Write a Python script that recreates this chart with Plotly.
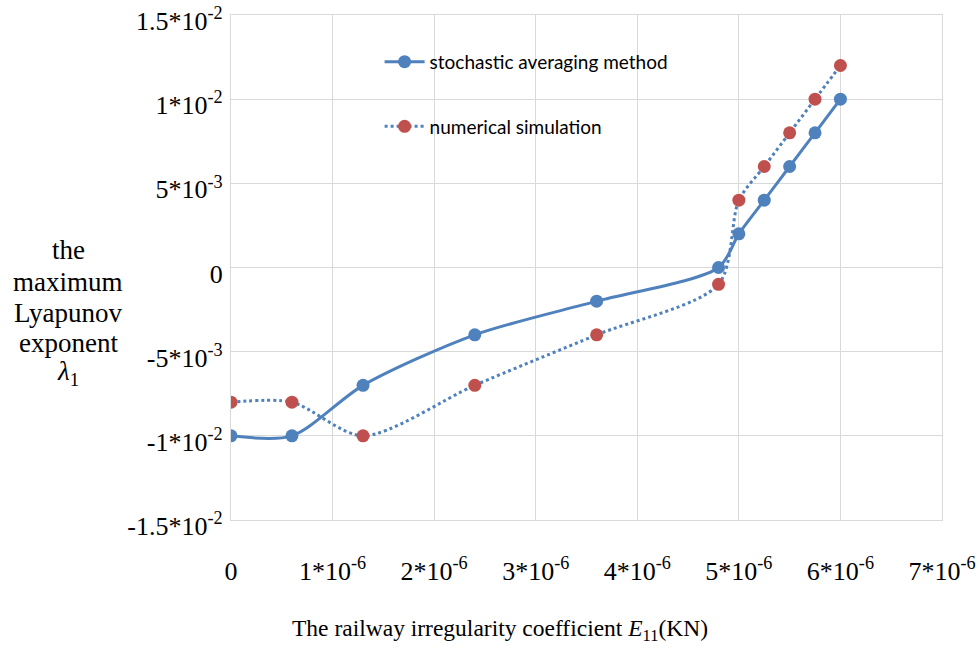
import plotly.graph_objects as go

# Data
x_avg = [0, 0.6e-6, 1.3e-6, 2.4e-6, 3.6e-6, 4.8e-6, 5.0e-6, 5.25e-6, 5.5e-6, 5.75e-6, 6.0e-6]
y_avg = [-0.010, -0.010, -0.007, -0.004, -0.002, 0.000, 0.002, 0.004, 0.006, 0.008, 0.010]
x_sim = [0, 0.6e-6, 1.3e-6, 2.4e-6, 3.6e-6, 4.8e-6, 5.0e-6, 5.25e-6, 5.5e-6, 5.75e-6, 6.0e-6]
y_sim = [-0.008, -0.008, -0.010, -0.007, -0.004, -0.001, 0.004, 0.006, 0.008, 0.010, 0.012]

x_tickvals = [0, 1e-6, 2e-6, 3e-6, 4e-6, 5e-6, 6e-6, 7e-6]
x_ticktext = ["0", "1*10<sup>-6</sup>", "2*10<sup>-6</sup>", "3*10<sup>-6</sup>", "4*10<sup>-6</sup>",
              "5*10<sup>-6</sup>", "6*10<sup>-6</sup>", "7*10<sup>-6</sup>"]
y_tickvals = [-0.015, -0.01, -0.005, 0, 0.005, 0.01, 0.015]
y_ticktext = ["-1.5*10<sup>-2</sup>", "-1*10<sup>-2</sup>", "-5*10<sup>-3</sup>", "0",
              "5*10<sup>-3</sup>", "1*10<sup>-2</sup>", "1.5*10<sup>-2</sup>"]
y_title_lines = ["the", "maximum", "Lyapunov", "exponent", "<i>λ</i><sub>1</sub>"]

BLUE = "#4F81BD"
RED = "#C0504D"
GRID = "#D9D9D9"
SERIF = "Liberation Serif"

fig = go.Figure()
fig.add_trace(go.Scatter(
    x=x_avg, y=y_avg, mode="lines+markers", name="stochastic averaging method",
    line=dict(color=BLUE, width=3, shape="spline", smoothing=0.8),
    marker=dict(color=BLUE, size=13), legendgroup="a"))
fig.add_trace(go.Scatter(
    x=x_sim, y=y_sim, mode="lines+markers", name="numerical simulation",
    line=dict(color=BLUE, width=3, dash="dot", shape="spline", smoothing=0.8),
    marker=dict(color=RED, size=13), legendgroup="b"))

fig.update_layout(
    width=980, height=648,
    margin=dict(l=231, r=38, t=15, b=128),
    paper_bgcolor="white", plot_bgcolor="white",
    font=dict(family=SERIF, size=26, color="#000000"),
    showlegend=True,
    legend=dict(x=0.209, y=0.945, xanchor="left", yanchor="top",
                font=dict(family="Lato", size=19, color="#000000"),
                tracegroupgap=37, bgcolor="rgba(0,0,0,0)", itemwidth=40),
    xaxis=dict(range=[0, 7e-6], tickvals=x_tickvals, ticktext=x_ticktext,
               showgrid=True, gridcolor=GRID, gridwidth=1.3, zeroline=False,
               showline=True, linecolor=GRID, linewidth=1.3, mirror=True,
               ticks="", ticklabelstandoff=28, automargin=False,
               ticklabeloverflow="allow",
               tickfont=dict(family=SERIF, size=26)),
    yaxis=dict(range=[-0.015, 0.015], tickvals=y_tickvals, ticktext=y_ticktext,
               showgrid=True, gridcolor=GRID, gridwidth=1.3, zeroline=False,
               showline=True, linecolor=GRID, linewidth=1.3, mirror=True,
               ticks="", ticklabelstandoff=2, ticklabelshift=6, automargin=False,
               ticklabeloverflow="allow",
               tickfont=dict(family=SERIF, size=26)),
)

line_y = [250, 282, 313, 343, 373]
for txt, py in zip(y_title_lines, line_y):
    fig.add_annotation(
        text=txt, xref="paper", yref="paper", x=(68 - 231) / 711, y=(520 - py) / 505,
        xanchor="center", yanchor="middle", showarrow=False, align="center",
        font=dict(family=SERIF, size=27, color="#000000"))
fig.add_annotation(
    text="The railway irregularity coefficient <i>E</i><sub>11</sub>(KN)",
    xref="paper", yref="paper", x=(500 - 231) / 711, y=-(630 - 520) / 505,
    xanchor="center", yanchor="middle", showarrow=False,
    font=dict(family=SERIF, size=23.5, color="#000000"))

fig.write_html("out.html")
